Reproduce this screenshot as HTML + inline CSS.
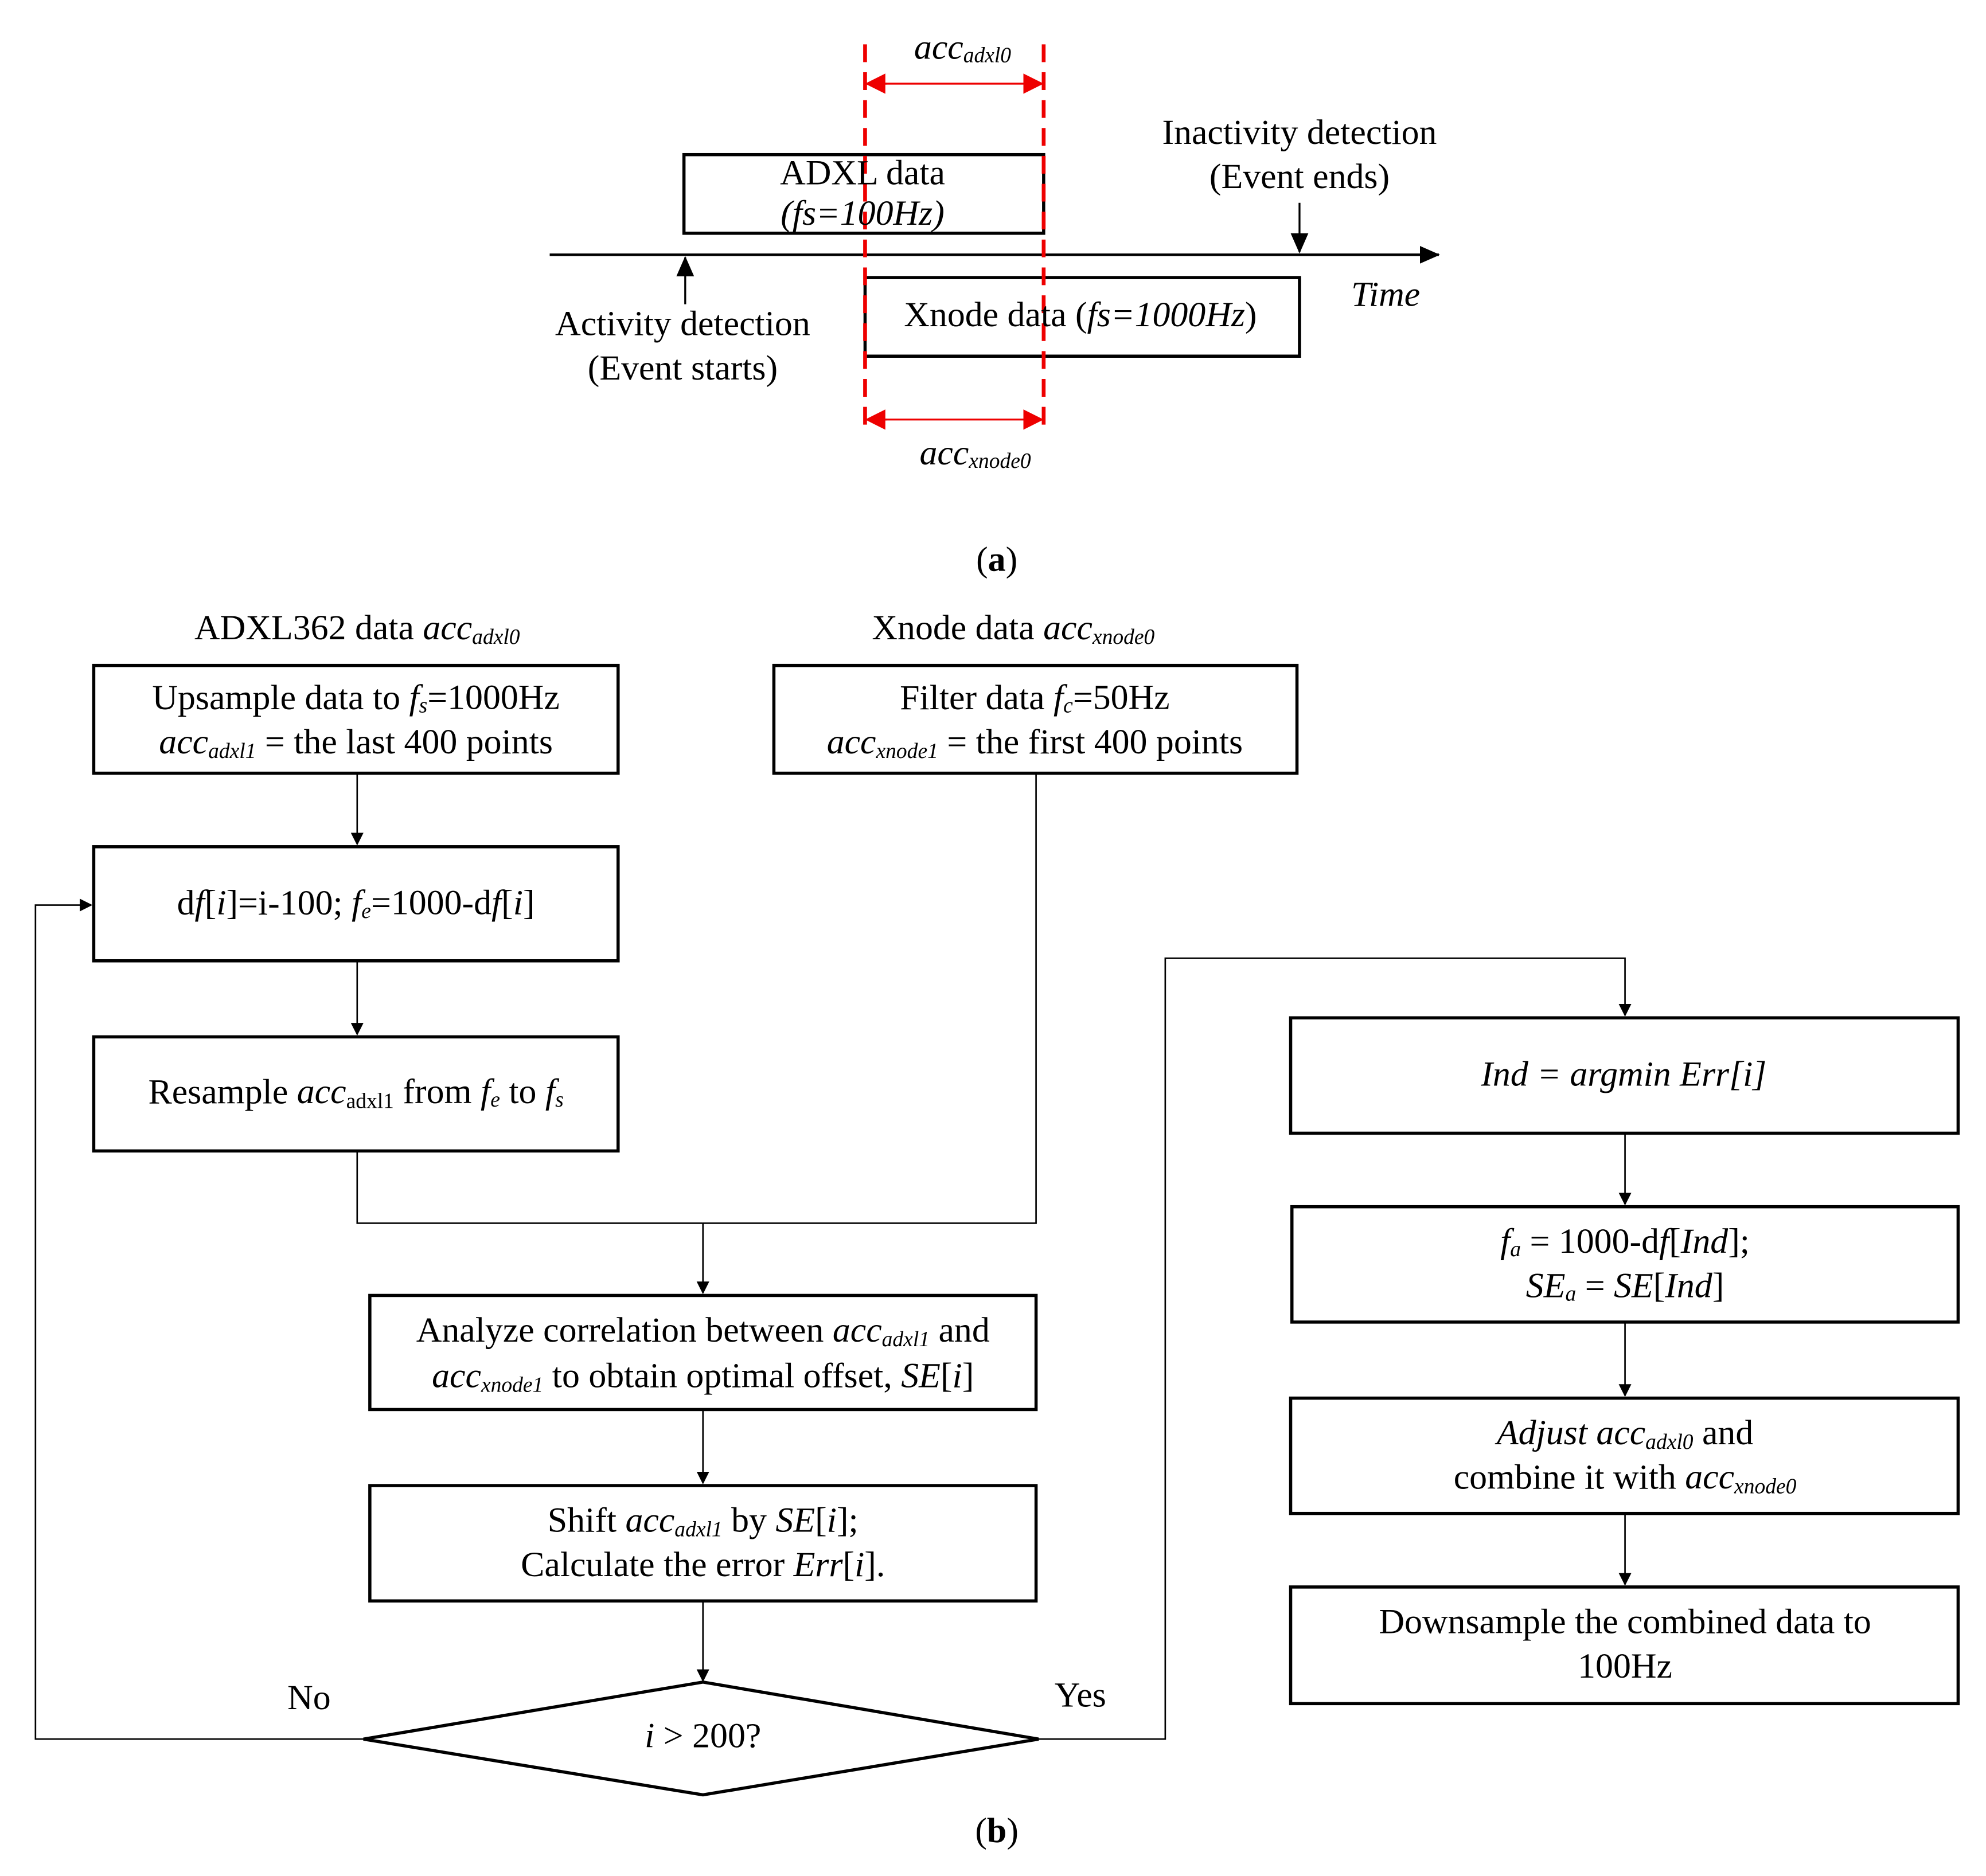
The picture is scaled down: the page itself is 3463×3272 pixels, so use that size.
<!DOCTYPE html>
<html><head><meta charset="utf-8"><style>
html,body{margin:0;padding:0;background:#fff;}
svg{display:block;}
text{font-family:"Liberation Serif",serif;font-size:28px;fill:#000;}
.i{font-style:italic;}
.s{font-size:17px;font-style:italic;}
</style></head><body>
<svg width="3463" height="3272" viewBox="0 0 1568 1480" preserveAspectRatio="none" xmlns="http://www.w3.org/2000/svg">
<defs>
<marker id="a" markerWidth="10" markerHeight="10" refX="9" refY="5" orient="auto" markerUnits="userSpaceOnUse"><path d="M0,0 L10,5 L0,10 z" fill="#000"/></marker>
<marker id="b" markerWidth="16" markerHeight="14" refX="15" refY="7" orient="auto" markerUnits="userSpaceOnUse"><path d="M0,0 L16,7 L0,14 z" fill="#000"/></marker>
<marker id="r" markerWidth="16" markerHeight="16" refX="15" refY="8" orient="auto" markerUnits="userSpaceOnUse"><path d="M0,0 L16,8 L0,16 z" fill="#e00"/></marker>
</defs>
<g fill="none" stroke="#000">
<rect x="540" y="122" width="284" height="62" stroke-width="2.5"/>
<rect x="683" y="219" width="343" height="62" stroke-width="2.5"/>
<line x1="434" y1="201" x2="1136" y2="201" stroke-width="2" marker-end="url(#b)"/>
<line x1="541" y1="240" x2="541" y2="203" stroke-width="1.5" marker-end="url(#b)"/>
<line x1="1026" y1="160" x2="1026" y2="199" stroke-width="1.5" marker-end="url(#b)"/>
<line x1="683" y1="35" x2="683" y2="342" stroke="#e00" stroke-width="3" stroke-dasharray="14,8"/>
<line x1="824" y1="35" x2="824" y2="342" stroke="#e00" stroke-width="3" stroke-dasharray="14,8"/>
<line x1="700" y1="66" x2="684" y2="66" stroke="#e00" stroke-width="1.5" marker-end="url(#r)"/>
<line x1="684" y1="66" x2="823" y2="66" stroke="#e00" stroke-width="1.5" marker-end="url(#r)"/>
<line x1="700" y1="331" x2="684" y2="331" stroke="#e00" stroke-width="1.5" marker-end="url(#r)"/>
<line x1="684" y1="331" x2="823" y2="331" stroke="#e00" stroke-width="1.5" marker-end="url(#r)"/>
<g stroke-width="2.5">
<rect x="74" y="525" width="414" height="85"/>
<rect x="611" y="525" width="413" height="85"/>
<rect x="74" y="668" width="414" height="90"/>
<rect x="74" y="818" width="414" height="90"/>
<rect x="292" y="1022" width="526" height="90"/>
<rect x="292" y="1172" width="526" height="91"/>
<polygon points="287,1372 555,1327 820,1372 555,1416"/>
<rect x="1019" y="803" width="527" height="91"/>
<rect x="1020" y="952" width="526" height="91"/>
<rect x="1019" y="1103" width="527" height="91"/>
<rect x="1019" y="1252" width="527" height="92"/>
</g>
<g stroke-width="1.2">
<line x1="282" y1="610" x2="282" y2="666" marker-end="url(#a)"/>
<line x1="282" y1="758" x2="282" y2="816" marker-end="url(#a)"/>
<polyline points="282,908 282,965 555,965"/>
<polyline points="818,610 818,965 555,965"/>
<line x1="555" y1="965" x2="555" y2="1020" marker-end="url(#a)"/>
<line x1="555" y1="1112" x2="555" y2="1170" marker-end="url(#a)"/>
<line x1="555" y1="1263" x2="555" y2="1326" marker-end="url(#a)"/>
<polyline points="287,1372 28,1372 28,714 72,714" marker-end="url(#a)"/>
<polyline points="820,1372 920,1372 920,756 1283,756 1283,801" marker-end="url(#a)"/>
<line x1="1283" y1="894" x2="1283" y2="950" marker-end="url(#a)"/>
<line x1="1283" y1="1043" x2="1283" y2="1101" marker-end="url(#a)"/>
<line x1="1283" y1="1194" x2="1283" y2="1250" marker-end="url(#a)"/>
</g>
</g>
<g text-anchor="middle" dominant-baseline="middle">
<text x="760" y="40"><tspan class="i">acc</tspan><tspan class="s" dy="5">adxl0</tspan></text>
<text x="681" y="139">ADXL  data</text>
<text x="681" y="171" class="i">(fs=100Hz)</text>
<text x="1026" y="107">Inactivity  detection</text>
<text x="1026" y="142">(Event ends)</text>
<text x="853" y="251">Xnode data (<tspan class="i">fs=1000Hz</tspan>)</text>
<text x="1094" y="235" class="i">Time</text>
<text x="539" y="258">Activity  detection</text>
<text x="539" y="293">(Event starts)</text>
<text x="770" y="360"><tspan class="i">acc</tspan><tspan class="s" dy="5">xnode0</tspan></text>
<text x="787" y="444" font-size="36">(<tspan font-weight="bold">a</tspan>)</text>

<text x="282" y="498" font-size="30">ADXL362  data <tspan class="i">acc</tspan><tspan class="s" dy="6">adxl0</tspan></text>
<text x="800" y="498" font-size="30">Xnode data <tspan class="i">acc</tspan><tspan class="s" dy="6">xnode0</tspan></text>
<text x="281" y="553">Upsample data to <tspan class="i">f</tspan><tspan class="s" dy="5">s</tspan><tspan dy="-5">=1000Hz</tspan></text>
<text x="281" y="588"><tspan class="i">acc</tspan><tspan class="s" dy="6">adxl1</tspan><tspan dy="-6"> = the last 400 points</tspan></text>
<text x="817" y="553">Filter data  <tspan class="i">f</tspan><tspan class="s" dy="5">c</tspan><tspan dy="-5">=50Hz</tspan></text>
<text x="817" y="588"><tspan class="i">acc</tspan><tspan class="s" dy="6">xnode1</tspan><tspan dy="-6"> = the first 400 points</tspan></text>
<text x="281" y="715">d<tspan class="i">f</tspan>[<tspan class="i">i</tspan>]=i-100; <tspan class="i">f</tspan><tspan class="s" dy="5">e</tspan><tspan dy="-5">=1000-d</tspan><tspan class="i">f</tspan>[<tspan class="i">i</tspan>]</text>
<text x="281" y="864">Resample <tspan class="i">acc</tspan><tspan font-size="17" dy="6">adxl1</tspan><tspan dy="-6">  from </tspan><tspan class="i">f</tspan><tspan class="s" dy="5">e</tspan><tspan dy="-5"> to </tspan><tspan class="i">f</tspan><tspan class="s" dy="5">s</tspan></text>
<text x="555" y="1052">Analyze  correlation between <tspan class="i">acc</tspan><tspan class="s" dy="6">adxl1</tspan><tspan dy="-6"> and</tspan></text>
<text x="555" y="1088"><tspan class="i">acc</tspan><tspan class="s" dy="6">xnode1</tspan><tspan dy="-6"> to obtain optimal offset, </tspan><tspan class="i">SE</tspan>[<tspan class="i">i</tspan>]</text>
<text x="555" y="1202">Shift <tspan class="i">acc</tspan><tspan class="s" dy="6">adxl1</tspan><tspan dy="-6"> by </tspan><tspan class="i">SE</tspan>[<tspan class="i">i</tspan>];</text>
<text x="555" y="1237">Calculate the error <tspan class="i">Err</tspan>[<tspan class="i">i</tspan>].</text>
<text x="555" y="1372"><tspan class="i">i</tspan> &gt; 200?</text>
<text x="244" y="1342">No</text>
<text x="853" y="1340">Yes</text>
<text x="1282" y="850" class="i">Ind = argmin Err[i]</text>
<text x="1283" y="982"><tspan class="i">f</tspan><tspan class="s" dy="5">a</tspan><tspan dy="-5"> = 1000-d</tspan><tspan class="i">f</tspan>[<tspan class="i">Ind</tspan>];</text>
<text x="1283" y="1017"><tspan class="i">SE</tspan><tspan class="s" dy="5">a</tspan><tspan dy="-5"> = </tspan><tspan class="i">SE</tspan>[<tspan class="i">Ind</tspan>]</text>
<text x="1283" y="1133"><tspan class="i">Adjust acc</tspan><tspan class="s" dy="6">adxl0</tspan><tspan dy="-6"> and</tspan></text>
<text x="1283" y="1168">combine it with <tspan class="i">acc</tspan><tspan class="s" dy="6">xnode0</tspan></text>
<text x="1283" y="1282">Downsample the combined data to</text>
<text x="1283" y="1317">100Hz</text>
<text x="787" y="1447" font-size="36">(<tspan font-weight="bold">b</tspan>)</text>
</g>
</svg>
</body></html>
